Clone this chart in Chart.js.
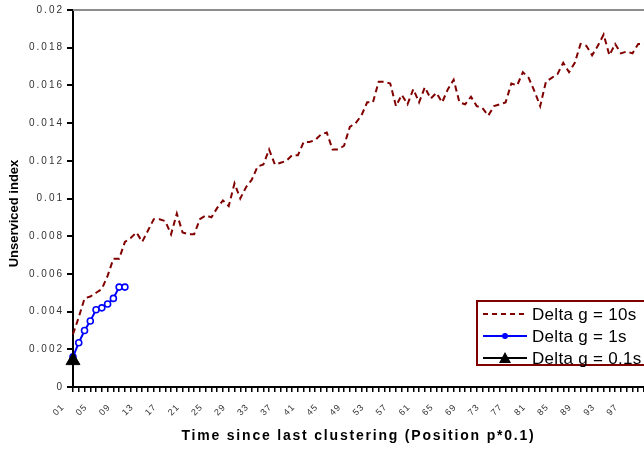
<!DOCTYPE html>
<html><head><meta charset="utf-8">
<script src="https://cdn.jsdelivr.net/npm/chart.js@4.4.1/dist/chart.umd.min.js"></script>
<style>html,body{margin:0;padding:0;background:#fff;overflow:hidden}#wrap{width:644px;height:449px;position:relative}</style>
</head><body><div id="wrap"><canvas id="c" width="644" height="449"></canvas></div>
<script>
const categories = ["01","02","03","04","05","06","07","08","09","10",
"11","12","13","14","15","16","17","18","19","20",
"21","22","23","24","25","26","27","28","29","30",
"31","32","33","34","35","36","37","38","39","40",
"41","42","43","44","45","46","47","48","49","50",
"51","52","53","54","55","56","57","58","59","60",
"61","62","63","64","65","66","67","68","69","70",
"71","72","73","74","75","76","77","78","79","80",
"81","82","83","84","85","86","87","88","89","90",
"91","92","93","94","95","96","97","98","99","100"];

const seriesNames = ["Delta g = 10s", "Delta g = 1s", "Delta g = 0.1s"];

const delta10s = [0.0028,0.0037,0.0047,0.0048,0.0050,0.0052,0.0059,0.0068,0.0068,0.0077,
0.0079,0.0082,0.0077,0.0083,0.0089,0.0089,0.0088,0.0081,0.0092,0.0082,
0.0081,0.0081,0.0089,0.0091,0.0090,0.0095,0.0099,0.0096,0.0108,0.0100,
0.0106,0.0110,0.0117,0.0118,0.0126,0.0118,0.0119,0.0120,0.0123,0.0123,
0.0130,0.0130,0.0131,0.0134,0.0135,0.0126,0.0126,0.0128,0.0138,0.0140,
0.0144,0.0151,0.0151,0.0162,0.0162,0.0161,0.0149,0.0155,0.0150,0.0158,
0.0151,0.0159,0.0153,0.0156,0.0151,0.0158,0.0163,0.0151,0.0150,0.0154,
0.0149,0.0148,0.0144,0.0149,0.0150,0.0151,0.0161,0.0160,0.0167,0.0164,
0.0157,0.0149,0.0162,0.0164,0.0166,0.0172,0.0167,0.0172,0.0182,0.0181,
0.0176,0.0181,0.0187,0.0176,0.0182,0.0177,0.0178,0.0177,0.0182,0.0182];

const delta1s = [0.0016,0.00235,0.0030,0.0035,0.0041,0.0042,0.0044,0.0047,0.0053,0.0053];

const delta01s = [0.0014];

const yTicks = [0,0.002,0.004,0.006,0.008,0.01,0.012,0.014,0.016,0.018,0.02];

function wrapScale(scale, labelSpacing, titleSpacing, titleShiftY){
  if (scale._wrapped) return;
  scale._wrapped = true;
  const dl = scale.drawLabels.bind(scale);
  const dt = scale.drawTitle.bind(scale);
  scale.drawLabels = function(a){ const c=this.ctx; const p=c.letterSpacing; c.letterSpacing=labelSpacing; dl(a); c.letterSpacing=p; };
  scale.drawTitle = function(a){ const c=this.ctx; const p=c.letterSpacing; c.save(); c.letterSpacing=titleSpacing; c.translate(0,titleShiftY); dt(a); c.restore(); c.letterSpacing=p; };
}

const decorPlugin = {
  id: 'decor',
  beforeLayout(chart){
    const sx = chart.scales.x;
    if (sx && !sx._padPatched) {
      sx._padPatched = true;
      sx._calculatePadding = function(){ this.paddingLeft = 0; this.paddingRight = 0; this.paddingTop = 0; this.paddingBottom = 0; };
    }
  },
  beforeDraw(chart){
    wrapScale(chart.scales.x, '1px', '1.8px', 0);
    wrapScale(chart.scales.y, '2px', '0px', 15);
  },
  afterDraw(chart){
    const ctx = chart.ctx, a = chart.chartArea;
    ctx.save();
    // top frame line
    ctx.strokeStyle = '#8c8c8c'; ctx.lineWidth = 2;
    ctx.beginPath(); ctx.moveTo(a.left, a.top); ctx.lineTo(a.right, a.top); ctx.stroke();
    // legend box
    const lx = 477, ly = 301, lw = 300, lh = 64;
    ctx.fillStyle = '#fff'; ctx.fillRect(lx, ly, lw, lh);
    ctx.strokeStyle = '#800000'; ctx.lineWidth = 2; ctx.strokeRect(lx, ly, lw, lh);
    const ds = chart.data.datasets;
    const rows = [314, 336, 358];
    ctx.font = '17px "Liberation Sans", Arial, sans-serif';
    ctx.textBaseline = 'middle'; ctx.textAlign = 'left';
    ctx.letterSpacing = '0.3px';
    for (let i = 0; i < 3; i++) {
      const y = rows[i];
      ctx.save();
      ctx.strokeStyle = ds[i].borderColor; ctx.lineWidth = 2;
      ctx.setLineDash(i === 0 ? [5, 4] : []);
      ctx.beginPath(); ctx.moveTo(483, y); ctx.lineTo(527, y); ctx.stroke();
      ctx.restore();
      if (i === 1) {
        ctx.fillStyle = '#0000ff';
        ctx.beginPath(); ctx.arc(505, y, 3, 0, Math.PI*2); ctx.fill();
      }
      if (i === 2) {
        ctx.fillStyle = '#000';
        ctx.beginPath(); ctx.moveTo(505, y-6); ctx.lineTo(511, y+5); ctx.lineTo(499, y+5); ctx.closePath(); ctx.fill();
      }
      ctx.fillStyle = '#000';
      ctx.fillText(ds[i].label, 532, y + 1);
    }
    ctx.restore();
  }
};

new Chart(document.getElementById('c'), {
  type: 'line',
  data: {
    labels: categories,
    datasets: [
      { label: seriesNames[0], data: delta10s, borderColor: '#800000', borderWidth: 2, borderDash: [6,4],
        pointRadius: 0, tension: 0, fill: false, order: 2 },
      { label: seriesNames[1], data: delta1s, borderColor: '#0000ff', borderWidth: 2,
        pointRadius: 3, pointBackgroundColor: '#ffffff', pointBorderColor: '#0000ff', pointBorderWidth: 1.6,
        tension: 0, fill: false, order: 1 },
      { label: seriesNames[2], data: delta01s, borderColor: '#000000', backgroundColor: '#000000',
        pointStyle: 'triangle', pointRadius: 8, pointBackgroundColor: '#000', pointBorderColor: '#000',
        showLine: false, clip: false, order: 0 }
    ]
  },
  options: {
    responsive: false,
    animation: false,
    events: [],
    layout: { autoPadding: false, padding: { top: 10, right: 0, left: 0, bottom: 0 } },
    plugins: { legend: { display: false }, tooltip: { enabled: false }, title: { display: false } },
    scales: {
      x: {
        type: 'category',
        offset: false,
        grid: { display: true, drawOnChartArea: false, drawTicks: true, tickLength: 5, color: '#000', lineWidth: 1.5 },
        border: { display: true, color: '#000', width: 2 },
        ticks: {
          autoSkip: false, minRotation: 45, maxRotation: 45, padding: 10, labelOffset: -10,
          color: '#333', font: { size: 9, family: '"Liberation Sans", Arial, sans-serif' },
          callback: (v, i) => (i % 4 === 0 ? categories[i] : '')
        },
        title: { display: true, text: 'Time since last clustering (Position p*0.1)', color: '#000',
          font: { size: 14, weight: 'bold', family: '"Liberation Sans", Arial, sans-serif' },
          padding: { top: 0, bottom: 4 } },
        afterFit: s => { s.height = 62; s.paddingRight = 0; s.paddingLeft = 0; }
      },
      y: {
        min: 0, max: 0.02,
        afterBuildTicks: s => { s.ticks = yTicks.map(v => ({ value: v })); },
        grid: { display: true, drawOnChartArea: false, drawTicks: true, tickLength: 6, color: '#000', lineWidth: 2 },
        border: { display: true, color: '#000', width: 2 },
        ticks: {
          padding: 3, color: '#333', font: { size: 10, family: '"Liberation Sans", Arial, sans-serif' },
          callback: v => String(Number(v.toFixed(4)))
        },
        title: { display: true, text: 'Unserviced index', color: '#000',
          font: { size: 13, weight: 'bold', family: '"Liberation Sans", Arial, sans-serif' },
          padding: { top: 7, bottom: 0 } },
        afterFit: s => { s.width = 73; }
      }
    }
  },
  plugins: [decorPlugin]
});
</script></body></html>
